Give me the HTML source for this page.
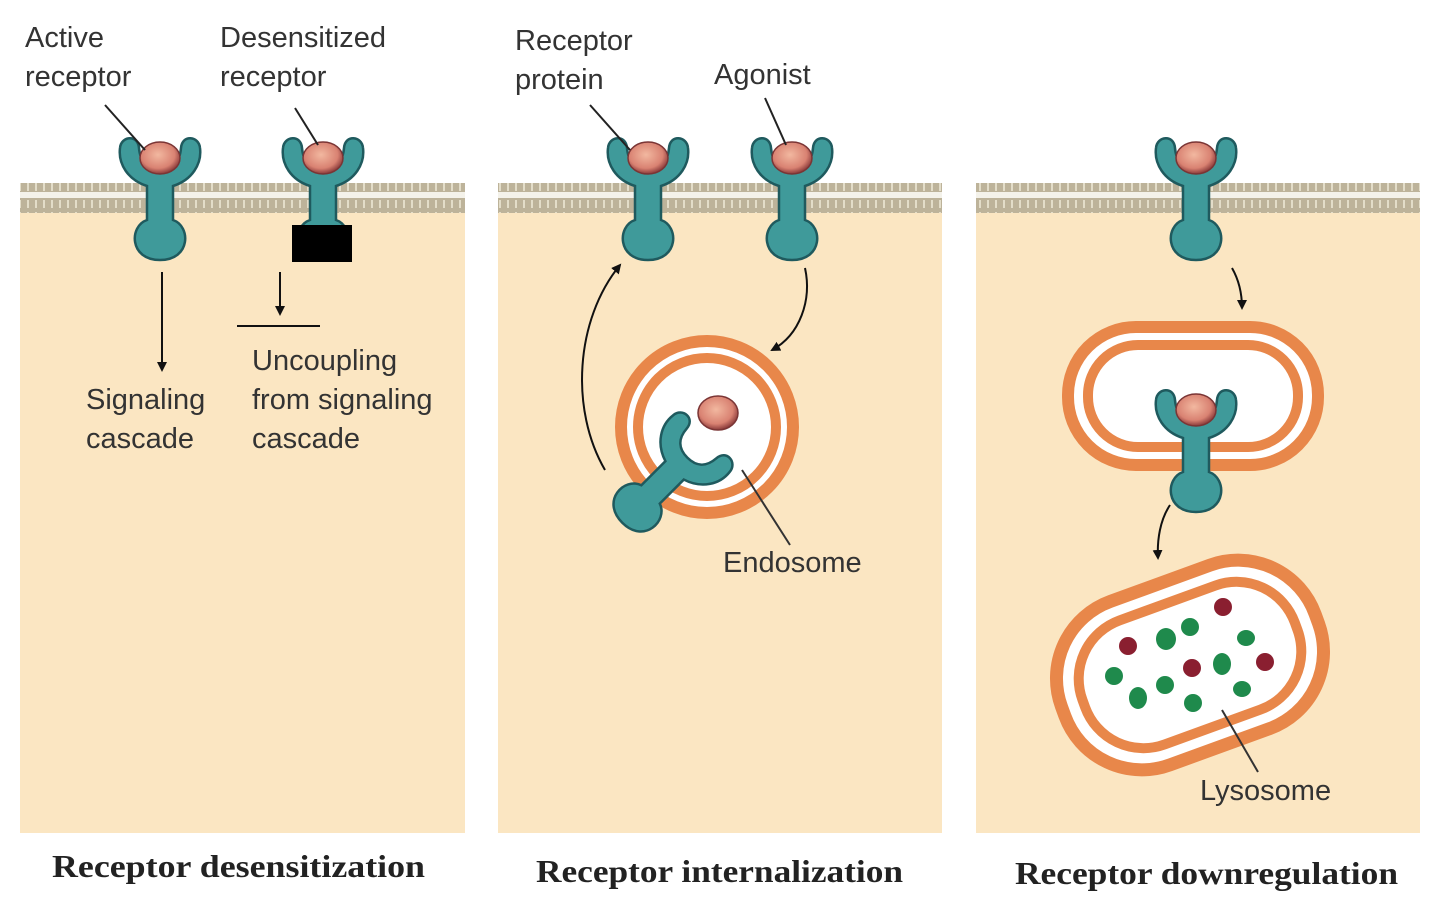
<!DOCTYPE html>
<html><head><meta charset="utf-8"><style>
html,body{margin:0;padding:0;background:#fff;}
svg{display:block;}
.lbl{font-family:"Liberation Sans",sans-serif;font-size:29px;fill:#333;}
.ttl{font-family:"Liberation Serif",serif;font-size:32px;font-weight:bold;fill:#222;}
</style></head><body>
<svg width="1440" height="912" viewBox="0 0 1440 912" xmlns="http://www.w3.org/2000/svg">
<defs>
<radialGradient id="lig" cx="0.45" cy="0.4" r="0.6"><stop offset="0" stop-color="#f2b8a0"/><stop offset="0.7" stop-color="#d98272"/><stop offset="1" stop-color="#8a3a3a"/></radialGradient>
<pattern id="mem" width="8" height="30" patternUnits="userSpaceOnUse">
<rect width="8" height="30" fill="#bdb39a"/>
<rect x="0" y="12" width="8" height="6" fill="#f4f2ea"/>
<rect x="3" y="2" width="2" height="9" fill="#e3ddc9"/>
<rect x="3" y="20" width="2" height="8" fill="#e3ddc9"/>
</pattern>
<g id="rec">
<path d="M-13,26 C-32,20 -42,4 -40,-12 C-39,-24 -22,-26 -21,-12 C-20,2 -12,8 0,8 C12,8 20,2 21,-12 C22,-26 39,-24 40,-12 C42,4 32,20 13,26 L13,60 C31,66 31,100 0,100 C-31,100 -31,66 -13,60 Z" fill="#3f9a9a" stroke="#1f5a5e" stroke-width="2.5"/>
</g>
<g id="lg"><ellipse cx="0" cy="0" rx="20" ry="16" fill="url(#lig)" stroke="#7a3535" stroke-width="1.5"/></g>
<marker id="ah" markerWidth="10" markerHeight="10" refX="8" refY="5" orient="auto" markerUnits="userSpaceOnUse"><path d="M0,0 L10,5 L0,10 Z" fill="#111"/></marker>
</defs>

<rect x="20" y="183" width="445" height="650" fill="#fbe6c2"/>
<rect x="498" y="183" width="444" height="650" fill="#fbe6c2"/>
<rect x="976" y="183" width="444" height="650" fill="#fbe6c2"/>
<rect x="20" y="183" width="445" height="30" fill="url(#mem)"/>
<rect x="498" y="183" width="444" height="30" fill="url(#mem)"/>
<rect x="976" y="183" width="444" height="30" fill="url(#mem)"/>

<!-- panel 1 -->
<use href="#rec" x="160" y="160"/><use href="#lg" x="160" y="158"/>
<use href="#rec" x="323" y="160"/><use href="#lg" x="323" y="158"/>
<rect x="292" y="225" width="60" height="37" fill="#000"/>
<line x1="105" y1="105" x2="145" y2="150" stroke="#222" stroke-width="2"/>
<line x1="295" y1="108" x2="318" y2="145" stroke="#222" stroke-width="2"/>
<line x1="162" y1="272" x2="162" y2="370" stroke="#111" stroke-width="2" marker-end="url(#ah)"/>
<line x1="280" y1="272" x2="280" y2="314" stroke="#111" stroke-width="2" marker-end="url(#ah)"/>
<line x1="237" y1="326" x2="320" y2="326" stroke="#111" stroke-width="2"/>
<text class="lbl" x="25" y="47">Active</text><text class="lbl" x="25" y="86">receptor</text>
<text class="lbl" x="220" y="47">Desensitized</text><text class="lbl" x="220" y="86">receptor</text>
<text class="lbl" x="86" y="409">Signaling</text><text class="lbl" x="86" y="448">cascade</text>
<text class="lbl" x="252" y="370">Uncoupling</text><text class="lbl" x="252" y="409">from signaling</text><text class="lbl" x="252" y="448">cascade</text>
<text class="ttl" x="52" y="877" textLength="373" lengthAdjust="spacingAndGlyphs">Receptor desensitization</text>

<!-- panel 2 -->
<use href="#rec" x="648" y="160"/><use href="#lg" x="648" y="158"/>
<use href="#rec" x="792" y="160"/><use href="#lg" x="792" y="158"/>
<line x1="590" y1="105" x2="630" y2="150" stroke="#222" stroke-width="2"/>
<line x1="765" y1="98" x2="786" y2="145" stroke="#222" stroke-width="2"/>
<circle cx="707" cy="427" r="86" fill="#fff" stroke="#e8874a" stroke-width="12"/>
<circle cx="707" cy="427" r="69" fill="#fff" stroke="#e8874a" stroke-width="10"/>
<ellipse cx="718" cy="413" rx="20" ry="17" fill="url(#lig)" stroke="#7a3535" stroke-width="1.5"/>
<g transform="translate(693,452) rotate(45)"><use href="#rec"/></g>
<path d="M605,470 C570,410 575,320 620,265" fill="none" stroke="#111" stroke-width="2" marker-end="url(#ah)"/>
<path d="M805,268 C812,300 800,335 772,350" fill="none" stroke="#111" stroke-width="2" marker-end="url(#ah)"/>
<line x1="742" y1="470" x2="790" y2="545" stroke="#333" stroke-width="2"/>
<text class="lbl" x="515" y="50">Receptor</text><text class="lbl" x="515" y="89">protein</text>
<text class="lbl" x="714" y="84">Agonist</text>
<text class="lbl" x="723" y="572">Endosome</text>
<text class="ttl" x="536" y="882" textLength="367" lengthAdjust="spacingAndGlyphs">Receptor internalization</text>

<!-- panel 3 -->
<use href="#rec" x="1196" y="160"/><use href="#lg" x="1196" y="158"/>
<path d="M1232,268 C1240,282 1242,295 1242,308" fill="none" stroke="#111" stroke-width="2" marker-end="url(#ah)"/>
<rect x="1068" y="327" width="250" height="138" rx="68" fill="#fff" stroke="#e8874a" stroke-width="12"/>
<rect x="1088" y="345" width="210" height="102" rx="50" fill="#fff" stroke="#e8874a" stroke-width="10"/>
<use href="#rec" x="1196" y="412"/><use href="#lg" x="1196" y="410"/>
<path d="M1170,505 C1160,520 1157,540 1158,558" fill="none" stroke="#111" stroke-width="2" marker-end="url(#ah)"/>
<g transform="translate(1190,665) rotate(-20)">
<rect x="-135" y="-87" width="270" height="174" rx="82" fill="#fff" stroke="#e8874a" stroke-width="13"/>
<rect x="-113" y="-66" width="226" height="132" rx="62" fill="#fff" stroke="#e8874a" stroke-width="10"/>
</g>
<g fill="#1f8a4c">
<ellipse cx="1166" cy="639" rx="10" ry="11"/><ellipse cx="1190" cy="627" rx="9" ry="9"/><ellipse cx="1246" cy="638" rx="9" ry="8"/>
<ellipse cx="1222" cy="664" rx="9" ry="11"/><ellipse cx="1114" cy="676" rx="9" ry="9"/><ellipse cx="1165" cy="685" rx="9" ry="9"/>
<ellipse cx="1242" cy="689" rx="9" ry="8"/><ellipse cx="1138" cy="698" rx="9" ry="11"/><ellipse cx="1193" cy="703" rx="9" ry="9"/>
</g>
<g fill="#8a1f30">
<ellipse cx="1223" cy="607" rx="9" ry="9"/><ellipse cx="1128" cy="646" rx="9" ry="9"/><ellipse cx="1192" cy="668" rx="9" ry="9"/><ellipse cx="1265" cy="662" rx="9" ry="9"/>
</g>
<line x1="1222" y1="710" x2="1258" y2="772" stroke="#333" stroke-width="2"/>
<text class="lbl" x="1200" y="800">Lysosome</text>
<text class="ttl" x="1015" y="884" textLength="383" lengthAdjust="spacingAndGlyphs">Receptor downregulation</text>
</svg>
</body></html>
